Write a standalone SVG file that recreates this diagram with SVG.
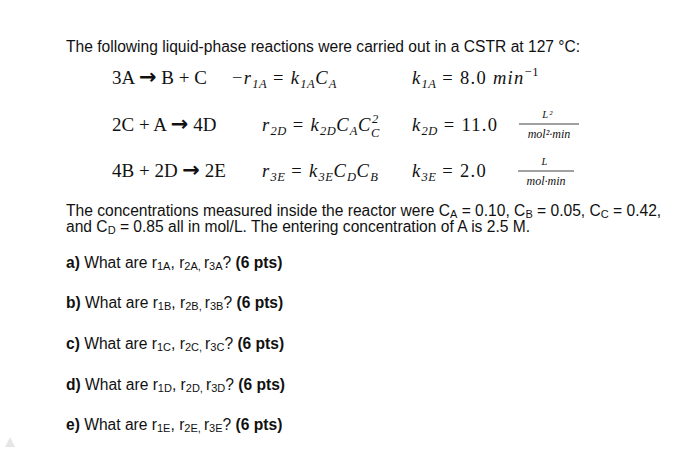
<svg xmlns="http://www.w3.org/2000/svg" width="700" height="451" viewBox="0 0 700 451">
<style>
.s{font-family:"Liberation Sans",Arial,sans-serif;font-size:15.6px;fill:#111}
.r{font-family:"Liberation Serif","Times New Roman",serif;font-size:19px;fill:#111}
.ar{font-family:"DejaVu Sans",sans-serif;font-weight:bold;font-size:21px}
.m{font-family:"Liberation Serif","Times New Roman",serif;font-size:18.5px;fill:#111;letter-spacing:1.3px}
.i{font-style:italic}
.ms{font-size:12.5px;letter-spacing:0.5px}
.sub{font-size:11px}
.b{font-weight:bold}
</style>
<rect width="700" height="451" fill="#fff"/>
<text class="s" x="66" y="52">The following liquid-phase reactions were carried out in a CSTR at 127 °C:</text>
<g id="reactions">
<text class="r" x="112" y="84">3A <tspan class="ar">→</tspan> B + C</text>
<text class="r" x="112" y="131">2C + A <tspan class="ar">→</tspan> 4D</text>
<text class="r" x="112" y="177">4B + 2D <tspan class="ar">→</tspan> 2E</text>
</g>
<g id="rates">
<text class="m" x="232" y="84">−<tspan class="i">r</tspan><tspan class="i ms" dy="4">1A</tspan><tspan dy="-4"> = </tspan><tspan class="i">k</tspan><tspan class="i ms" dy="4">1A</tspan><tspan class="i" dy="-4">C</tspan><tspan class="i ms" dy="4">A</tspan></text>
<text class="m" x="262" y="131"><tspan class="i">r</tspan><tspan class="i ms" dy="4">2D</tspan><tspan dy="-4"> = </tspan><tspan class="i">k</tspan><tspan class="i ms" dy="4">2D</tspan><tspan class="i" dy="-4">C</tspan><tspan class="i ms" dy="4">A</tspan><tspan class="i" dy="-4">C</tspan></text>
<text class="m i ms" x="372" y="123">2</text>
<text class="m i ms" x="371" y="137">C</text>
<text class="m" x="262" y="177"><tspan class="i">r</tspan><tspan class="i ms" dy="4">3E</tspan><tspan dy="-4"> = </tspan><tspan class="i">k</tspan><tspan class="i ms" dy="4">3E</tspan><tspan class="i" dy="-4">C</tspan><tspan class="i ms" dy="4">D</tspan><tspan class="i" dy="-4">C</tspan><tspan class="i ms" dy="4">B</tspan></text>
</g>
<g id="constants">
<text class="m" x="412" y="84"><tspan class="i">k</tspan><tspan class="i ms" dy="4">1A</tspan><tspan dy="-4"> = 8.0 </tspan><tspan class="i">min</tspan><tspan class="ms" dy="-8">−1</tspan></text>
<text class="m" x="412" y="131"><tspan class="i">k</tspan><tspan class="i ms" dy="4">2D</tspan><tspan dy="-4"> = 11.0</tspan></text>
<text class="m" x="412" y="177"><tspan class="i">k</tspan><tspan class="i ms" dy="4">3E</tspan><tspan dy="-4"> = 2.0</tspan></text>
<text class="m i" x="548" y="118" text-anchor="middle" style="font-size:10.5px">L²</text>
<line x1="519" y1="124" x2="579" y2="124" stroke="#111" stroke-width="0.8"/>
<text class="m i" x="549" y="138" text-anchor="middle" style="font-size:12px;letter-spacing:0">mol²·min</text>
<text class="m i" x="545" y="165" text-anchor="middle" style="font-size:10.5px">L</text>
<line x1="518" y1="171" x2="574" y2="171" stroke="#111" stroke-width="0.8"/>
<text class="m i" x="546" y="185" text-anchor="middle" style="font-size:12px;letter-spacing:0">mol·min</text>
</g>
<g id="paragraph">
<text class="s" x="66" y="216">The concentrations measured inside the reactor were C<tspan class="sub" dy="2">A</tspan><tspan dy="-2"> = 0.10, C</tspan><tspan class="sub" dy="2">B</tspan><tspan dy="-2"> = 0.05, C</tspan><tspan class="sub" dy="2">C</tspan><tspan dy="-2"> = 0.42,</tspan></text>
<text class="s" x="66" y="232">and C<tspan class="sub" dy="2">D</tspan><tspan dy="-2"> = 0.85 all in mol/L. The entering concentration of A is 2.5 M.</tspan></text>
</g>
<g id="questions">
<text class="s" x="66" y="268"><tspan class="b">a)</tspan> What are r<tspan class="sub" dy="2">1A</tspan><tspan dy="-2">, r</tspan><tspan class="sub" dy="2">2A, </tspan><tspan dy="-2">r</tspan><tspan class="sub" dy="2">3A</tspan><tspan dy="-2">?  </tspan><tspan class="b">(6 pts)</tspan></text>
<text class="s" x="66" y="308"><tspan class="b">b)</tspan> What are r<tspan class="sub" dy="2">1B</tspan><tspan dy="-2">, r</tspan><tspan class="sub" dy="2">2B, </tspan><tspan dy="-2">r</tspan><tspan class="sub" dy="2">3B</tspan><tspan dy="-2">?  </tspan><tspan class="b">(6 pts)</tspan></text>
<text class="s" x="66" y="349"><tspan class="b">c)</tspan> What are r<tspan class="sub" dy="2">1C</tspan><tspan dy="-2">, r</tspan><tspan class="sub" dy="2">2C, </tspan><tspan dy="-2">r</tspan><tspan class="sub" dy="2">3C</tspan><tspan dy="-2">?  </tspan><tspan class="b">(6 pts)</tspan></text>
<text class="s" x="66" y="390"><tspan class="b">d)</tspan> What are r<tspan class="sub" dy="2">1D</tspan><tspan dy="-2">, r</tspan><tspan class="sub" dy="2">2D, </tspan><tspan dy="-2">r</tspan><tspan class="sub" dy="2">3D</tspan><tspan dy="-2">?  </tspan><tspan class="b">(6 pts)</tspan></text>
<text class="s" x="66" y="430"><tspan class="b">e)</tspan> What are r<tspan class="sub" dy="2">1E</tspan><tspan dy="-2">, r</tspan><tspan class="sub" dy="2">2E, </tspan><tspan dy="-2">r</tspan><tspan class="sub" dy="2">3E</tspan><tspan dy="-2">? </tspan><tspan class="b">(6 pts)</tspan></text>
</g>
<polygon points="5,447 10,437 15,447" fill="#e6e6e6"/>
</svg>
